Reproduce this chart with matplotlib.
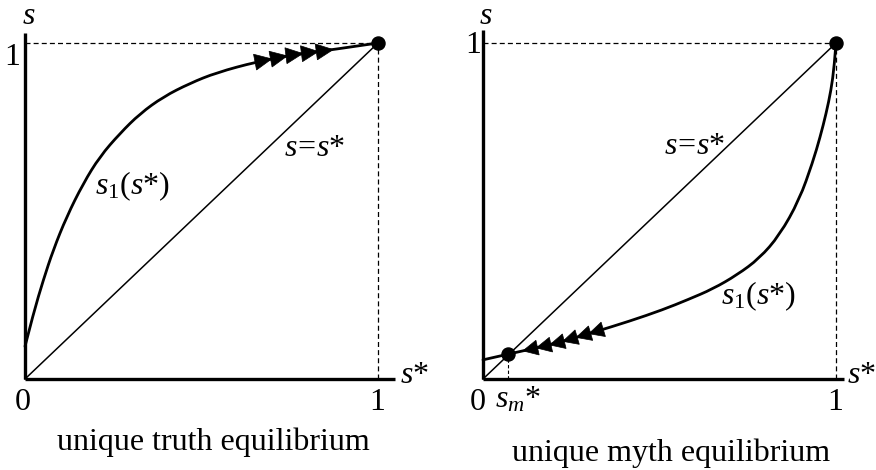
import numpy as np
import matplotlib
matplotlib.use('Agg')
import matplotlib.pyplot as plt
from matplotlib.path import Path
from matplotlib.patches import PathPatch, Polygon
from matplotlib.transforms import IdentityTransform

plt.rcParams['font.family'] = ['Liberation Serif', 'DejaVu Serif']
plt.rcParams['mathtext.fontset'] = 'custom'
plt.rcParams['mathtext.rm'] = 'Liberation Serif'
plt.rcParams['mathtext.it'] = 'Liberation Serif:italic'

# curve s1(s*), left panel (truth)
truth_x = [0.0, 0.024, 0.052, 0.080, 0.118, 0.165, 0.212, 0.269, 0.326, 0.392, 0.467,
           0.543, 0.656, 0.760, 0.864, 1.0]
truth_y = [0.097, 0.196, 0.295, 0.384, 0.483, 0.582, 0.662, 0.731, 0.790, 0.840, 0.880,
           0.912, 0.944, 0.965, 0.979, 1.0]
truth_arrows = [0.699, 0.743, 0.787, 0.831, 0.873]

# curve s1(s*) right panel (myth)
myth_x = [0.0, 0.071, 0.200, 0.310, 0.415, 0.509, 0.580, 0.651, 0.720, 0.783, 0.840,
          0.896, 0.934, 0.955, 0.972, 0.986, 0.995, 1.0]
myth_y = [0.057, 0.074, 0.104, 0.138, 0.172, 0.206, 0.236, 0.268, 0.310, 0.359, 0.428,
          0.533, 0.645, 0.720, 0.790, 0.860, 0.930, 1.0]
myth_arrows = [0.113, 0.151, 0.189, 0.226, 0.264, 0.300]
sm = 0.071

W, H = 876, 470
fig = plt.figure(figsize=(W / 100, H / 100), dpi=100)


def make_ax(px_left):
    ax = fig.add_axes([px_left / W, (H - 379) / H, 353 / W, 336 / H])
    ax.set_xlim(0, 1)
    ax.set_ylim(0, 1)
    ax.axis('off')
    return ax


def smooth_curve(ax, xs, ys):
    # quadratic bezier path through the midpoints, read points as controls
    pts = list(zip(xs, ys))
    verts = [pts[0]]
    codes = [Path.MOVETO]
    for i in range(1, len(pts) - 1):
        mid = ((pts[i][0] + pts[i + 1][0]) / 2, (pts[i][1] + pts[i + 1][1]) / 2)
        if i == len(pts) - 2:
            mid = pts[-1]
        verts += [pts[i], mid]
        codes += [Path.CURVE3, Path.CURVE3]
    ax.add_patch(PathPatch(Path(verts, codes), fc='none', ec='k', lw=2.0,
                           clip_on=False, capstyle='round'))


def arrowheads(ax, xs, ys, where, direction, length, half):
    for xa in where:
        tip = ax.transData.transform((xa, np.interp(xa, xs, ys)))
        xb = xa - 0.02 * direction
        back = ax.transData.transform((xb, np.interp(xb, xs, ys)))
        d = (tip - back) / np.hypot(*(tip - back))
        n = np.array([-d[1], d[0]])
        base = tip - d * length
        verts = [tip, base + n * half, base - n * half]
        fig.patches.append(Polygon(verts, closed=True, fc='k', ec='k', lw=0.5,
                                   transform=IdentityTransform(), figure=fig))


def frame(ax, xend, yend):
    ax.plot([0, xend], [0, 0], color='k', lw=2.4, clip_on=False, solid_capstyle='butt')
    ax.plot([0, 0], [0, yend], color='k', lw=2.4, clip_on=False, solid_capstyle='butt')
    ax.plot([0, 1], [0, 1], color='k', lw=1.1, clip_on=False)
    ax.plot([0, 1], [1, 1], color='k', lw=0.9, ls=(0, (4, 2.5)), clip_on=False)
    ax.plot([1, 1], [0, 1], color='k', lw=0.9, ls=(0, (4, 2.5)), clip_on=False)
    ax.plot([1], [1], 'o', color='k', ms=9.4, clip_on=False)


fs = 23

# left panel
ax1 = make_ax(25)
frame(ax1, 1.048, 1.029)
smooth_curve(ax1, truth_x, truth_y)
arrowheads(ax1, truth_x, truth_y, truth_arrows, 1, 17, 8)
ax1.text(0.011, 1.058, '$s$', fontsize=fs, ha='center', va='baseline')
ax1.text(-0.036, 0.934, '1', fontsize=fs, ha='center', va='baseline')
ax1.text(-0.007, -0.092, '0', fontsize=fs, ha='center', va='baseline')
ax1.text(0.997, -0.092, '1', fontsize=fs, ha='center', va='baseline')
ax1.text(1.062, -0.012, '$s$*', fontsize=fs, ha='left', va='baseline')
ax1.text(0.819, 0.685, '$s\\!=\\!s$*', fontsize=fs, ha='center', va='center')
ax1.text(0.198, 0.574, '$s_1(s$*$)$', fontsize=fs, ha='left', va='center')
ax1.text(0.533, -0.21, 'unique truth equilibrium', fontsize=fs, ha='center', va='baseline')

# right panel
ax2 = make_ax(483)
frame(ax2, 1.023, 1.039)
smooth_curve(ax2, myth_x, myth_y)
ax2.plot([sm, sm], [0, np.interp(sm, myth_x, myth_y)], color='k', lw=0.8,
         ls=(0, (3, 2)), clip_on=False)
ax2.plot([sm], [np.interp(sm, myth_x, myth_y)], 'o', color='k', ms=9.4, clip_on=False)
arrowheads(ax2, myth_x, myth_y, myth_arrows, -1, 15, 7.5)
ax2.text(0.008, 1.058, '$s$', fontsize=fs, ha='center', va='baseline')
ax2.text(-0.029, 0.970, '1', fontsize=fs, ha='center', va='baseline')
ax2.text(-0.015, -0.092, '0', fontsize=fs, ha='center', va='baseline')
ax2.text(0.033, -0.086, '$s_m$*', fontsize=fs, ha='left', va='baseline')
ax2.text(0.998, -0.092, '1', fontsize=fs, ha='center', va='baseline')
ax2.text(1.032, -0.012, '$s$*', fontsize=fs, ha='left', va='baseline')
ax2.text(0.598, 0.693, '$s\\!=\\!s$*', fontsize=fs, ha='center', va='center')
ax2.text(0.675, 0.247, '$s_1(s$*$)$', fontsize=fs, ha='left', va='center')
ax2.text(0.533, -0.245, 'unique myth equilibrium', fontsize=fs, ha='center', va='baseline')

fig.savefig('out.png', dpi=100)
